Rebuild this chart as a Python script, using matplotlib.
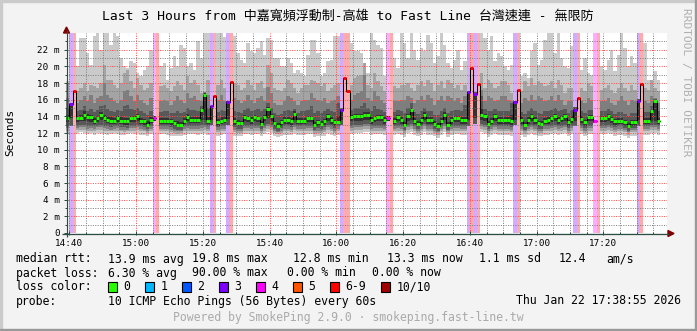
import numpy as np
import matplotlib
matplotlib.use('Agg')
import matplotlib.pyplot as plt
from matplotlib.patches import Polygon, Rectangle

nan = float('nan')

# one sample per minute, first sample at 14:39
median = [
    13.8, 15.5, 17.1, 13.8, 13.8, 14.2, 13.9, 13.9, 13.4, 13.8,
    14.2, 13.8, 13.6, 13.5, 13.5, 13.8, 13.5, 13.4, 13.4, 13.8,
    13.8, 14.0, 13.5, 13.4, 13.0, 13.6, 13.8, nan, 13.5, 13.5,
    13.5, 13.4, 13.2, 13.0, 13.0, 13.5, 13.9, 13.6, 13.6, 13.6,
    14.8, 16.6, 13.5, 15.2, 16.4, 13.3, 13.5, 13.6, 15.7, 18.1,
    13.4, 13.2, 13.2, 13.9, 13.8, 13.6, 13.9, 13.8, 13.1, 13.9,
    14.9, 14.0, 13.2, 12.9, 13.3, 13.6, 13.6, 13.5, 14.3, 13.5,
    13.5, 13.5, 13.8, 13.8, 13.0, 13.3, 13.1, 13.4, 14.0, 13.6,
    13.3, 13.3, 14.8, 18.6, 17.0, 13.9, 14.0, 14.0, 14.0, 14.2,
    14.2, 13.6, 13.8, 13.9, 13.9, 13.6, 13.8, nan, 13.5, 13.9,
    13.6, 13.0, 14.0, 14.8, 13.5, 13.1, 13.6, 14.2, 13.6, 13.6,
    13.1, 12.9, 13.5, 14.2, 13.0, 13.6, 13.8, 13.8, 13.6, 13.6,
    16.9, 19.8, 16.7, 17.9, 14.2, 14.0, 13.1, 13.5, 14.0, 13.6,
    13.6, 13.6, 13.6, 13.4, 15.7, 17.2, 13.6, 13.0, 13.6, 14.0,
    13.6, 13.2, 13.1, 13.5, 13.6, 13.8, 14.0, 13.6, 13.8, 14.0,
    13.3, 13.7, 14.8, 16.2, 13.7, 13.3, 13.9, 13.9, 13.4, nan,
    13.8, 13.8, 14.0, 13.7, 13.4, 13.5, 13.5, 13.3, 12.9, 13.3,
    13.3, 15.8, 17.9, 13.5, 13.5, 14.6, 15.8, 13.5,
]

# sorted pings (ms), slowest first
ping10 = [
    18.2, nan, nan, 20.0, 23.4, 23.4, 21.6, 20.2, 23.6, 24.0,
    22.0, 24.0, 24.0, 22.6, 24.0, 23.6, 21.0, 20.0, 19.8, 20.6,
    20.4, 19.2, 18.8, 19.6, 20.0, 22.0, nan, nan, 20.0, 20.4,
    18.4, 19.8, 21.2, 20.0, 22.6, 22.2, 20.0, 20.4, 19.6, 23.0,
    21.0, 24.0, 24.0, nan, nan, 24.0, 24.0, 23.5, nan, nan,
    23.6, 21.6, 20.8, 20.4, 22.8, 21.8, 21.6, 22.2, 23.0, 21.4,
    23.4, 23.2, 21.0, 21.0, 20.0, 20.0, 21.0, 20.4, 19.2, 19.6,
    19.2, 18.8, 21.4, 23.2, 23.2, 21.6, 18.8, 19.2, 20.6, 20.8,
    23.6, 23.6, nan, nan, nan, 22.8, 21.8, 21.8, 21.6, 20.4,
    19.2, 24.0, 23.2, 22.6, 22.2, 18.8, nan, nan, 21.0, 19.8,
    24.0, 22.8, 21.0, 24.0, 22.0, 20.8, 22.2, 21.8, 23.8, 22.8,
    20.4, 21.2, 24.0, 22.6, 20.4, 19.8, 20.8, 22.0, 19.6, 20.6,
    nan, nan, nan, nan, 24.0, 23.4, 22.0, 23.6, 20.6, 21.6,
    21.2, 20.0, 19.6, 20.2, nan, nan, 18.8, 19.2, 18.6, 21.8,
    22.8, 20.2, 20.8, 23.2, 24.0, 24.0, 21.6, 24.0, 21.0, 20.0,
    19.8, 22.4, nan, nan, 19.6, 21.0, 19.2, 19.0, nan, nan,
    20.0, 19.6, 20.8, 22.0, 19.4, 21.4, 24.0, 22.2, 20.0, 21.2,
    20.4, nan, nan, 22.8, 18.4, 18.4, 19.4, 18.4,
]
ping9 = [
    18.0, nan, nan, 17.0, 17.4, 18.0, 17.0, 17.8, 17.6, 17.4,
    18.0, 20.2, 18.4, 18.4, 17.8, 17.4, 18.0, 19.2, 19.6, 18.2,
    17.4, 18.6, 17.8, 17.2, 17.4, 18.0, nan, nan, 17.6, 17.8,
    17.4, 17.0, 17.6, 18.2, 17.8, 17.2, 18.8, 18.0, 18.4, 17.8,
    16.8, 16.9, 18.4, nan, nan, 17.8, 18.4, 17.4, nan, nan,
    18.0, 17.8, 17.2, 17.4, 18.4, 17.8, 17.2, 18.0, 18.2, 17.4,
    20.2, 19.2, 17.4, 17.2, 17.0, 17.4, 18.4, 18.0, 17.4, 16.8,
    17.4, 17.8, 17.8, 18.4, 18.2, 18.0, 17.6, 18.0, 17.0, 17.4,
    17.8, 18.0, nan, nan, nan, 17.8, 18.6, 18.8, 19.0, 20.4,
    17.8, 17.4, 19.2, 18.2, 17.6, 17.0, nan, nan, 17.6, 17.4,
    17.8, 17.8, 18.0, 17.4, 17.0, 17.8, 18.2, 17.6, 18.4, 18.0,
    17.0, 17.8, 18.2, 17.4, 18.4, 18.0, 17.4, 17.8, 17.2, 17.8,
    nan, nan, nan, nan, 19.2, 17.4, 18.4, 18.0, 17.4, 17.6,
    18.2, 18.2, 17.8, 16.8, nan, nan, 17.0, 18.2, 17.6, 18.6,
    17.8, 18.2, 18.0, 17.6, 17.8, 18.2, 17.4, 18.4, 17.8, 16.8,
    17.4, 17.4, nan, nan, 17.4, 17.0, 18.0, 17.6, nan, nan,
    17.2, 17.4, 17.8, 17.2, 16.8, 17.4, 18.0, 17.4, 17.0, 17.8,
    17.2, nan, nan, 17.4, 17.2, 18.4, 17.4, 17.0,
]
ping8 = [
    16.2, nan, nan, 15.6, 16.0, 16.4, 15.8, 16.6, 15.6, 16.2,
    16.4, 18.0, 16.6, 16.2, 15.8, 15.6, 16.0, 17.0, 17.2, 16.4,
    15.8, 16.6, 16.0, 15.6, 15.4, 16.2, nan, nan, 15.8, 16.0,
    15.8, 15.4, 15.8, 16.4, 16.0, 15.6, 16.8, 16.2, 16.4, 16.0,
    15.8, 16.9, 16.6, nan, nan, 16.0, 16.6, 15.8, nan, nan,
    16.2, 16.0, 15.6, 15.8, 16.6, 16.0, 15.6, 16.2, 16.4, 15.8,
    17.5, 16.8, 15.6, 15.4, 15.4, 15.8, 16.4, 16.2, 15.8, 15.4,
    15.8, 16.0, 16.0, 16.8, 16.2, 16.0, 15.8, 16.2, 15.6, 15.8,
    16.0, 16.4, nan, nan, nan, 16.0, 16.6, 16.8, 17.0, 19.0,
    16.2, 15.8, 17.0, 16.4, 16.0, 15.6, nan, nan, 15.8, 15.8,
    16.0, 16.0, 16.4, 16.2, 15.6, 16.0, 16.4, 16.0, 16.6, 16.2,
    15.4, 16.0, 16.4, 15.8, 16.4, 16.2, 15.8, 16.2, 15.6, 16.4,
    nan, nan, nan, nan, 17.2, 15.8, 16.4, 16.2, 15.8, 16.0,
    16.4, 16.4, 16.0, 15.8, nan, nan, 15.6, 16.2, 15.8, 16.6,
    16.0, 16.4, 16.2, 15.8, 16.0, 16.4, 15.8, 16.6, 16.0, 15.4,
    15.8, 15.8, nan, nan, 15.8, 15.6, 16.2, 16.0, nan, nan,
    15.8, 15.8, 16.2, 15.6, 15.4, 15.8, 16.4, 15.8, 15.4, 16.0,
    15.8, nan, nan, 15.8, 15.6, 16.4, 16.2, 15.6,
]
ping7 = [
    15.0, 15.6, nan, 14.6, 14.8, 15.2, 14.6, 14.9, 14.5, 14.8,
    15.2, 15.4, 14.9, 14.6, 14.5, 14.8, 14.6, 15.2, 15.4, 14.9,
    14.8, 15.0, 14.6, 14.4, 14.2, 14.7, nan, nan, 14.5, 14.6,
    14.6, 14.4, 14.4, 14.6, 14.4, 14.5, 15.0, 14.8, 14.8, 14.6,
    15.2, 16.8, 15.0, 15.3, nan, 14.5, 14.8, 14.6, 15.8, nan,
    14.7, 14.5, 14.4, 14.8, 15.0, 14.7, 14.8, 14.9, 14.6, 14.9,
    15.6, 15.0, 14.4, 14.2, 14.3, 14.6, 14.8, 14.6, 14.9, 14.4,
    14.6, 14.6, 14.8, 15.2, 14.4, 14.6, 14.4, 14.7, 14.9, 14.6,
    14.5, 15.6, 15.0, nan, nan, 14.8, 15.0, 15.0, 15.2, 15.6,
    15.0, 14.6, 15.2, 14.9, 14.8, 14.5, nan, nan, 14.5, 14.8,
    14.6, 14.4, 15.0, 15.6, 14.5, 14.3, 14.7, 15.0, 14.7, 14.6,
    14.2, 14.2, 14.6, 15.0, 14.4, 14.6, 14.8, 14.8, 14.6, 15.4,
    17.1, nan, 16.9, nan, 16.4, 14.9, 14.6, 14.6, 14.9, 14.6,
    14.7, 14.6, 14.6, 15.6, 15.8, nan, 14.5, 14.3, 14.6, 15.0,
    14.6, 14.4, 14.3, 14.6, 14.7, 14.8, 15.0, 14.7, 14.8, 14.9,
    14.4, 14.8, 15.1, nan, 14.6, 14.4, 14.8, 14.8, nan, nan,
    14.7, 14.7, 14.9, 14.6, 14.3, 14.5, 14.5, 14.3, 14.0, 14.4,
    14.4, 16.1, nan, 14.5, 14.5, 15.2, 16.1, 14.6,
]
ping6 = [
    14.2, 15.5, nan, 14.1, 14.2, 14.6, 14.3, 14.2, 13.8, 14.1,
    14.5, 14.2, 14.0, 13.9, 13.8, 14.1, 13.9, 13.8, 13.8, 14.1,
    14.1, 14.3, 13.8, 13.7, 13.4, 13.9, 14.0, nan, 13.8, 13.8,
    13.8, 13.7, 13.5, 13.4, 13.3, 13.8, 14.3, 13.9, 13.9, 13.9,
    15.0, 16.8, 13.9, 15.2, nan, 13.7, 13.9, 13.9, 15.7, nan,
    13.8, 13.6, 13.5, 14.2, 14.1, 13.9, 14.2, 14.1, 13.5, 14.2,
    15.1, 14.3, 13.5, 13.2, 13.6, 13.9, 13.9, 13.8, 14.6, 13.8,
    13.8, 13.8, 14.1, 14.1, 13.3, 13.6, 13.4, 13.7, 14.3, 13.9,
    13.6, 14.0, 14.9, nan, nan, 14.2, 14.3, 14.3, 14.3, 14.5,
    14.5, 13.9, 14.1, 14.2, 14.2, 13.9, 14.0, nan, 13.8, 14.2,
    13.9, 13.3, 14.3, 15.0, 13.8, 13.4, 13.9, 14.5, 13.9, 13.9,
    13.4, 13.2, 13.8, 14.5, 13.3, 13.9, 14.1, 14.1, 13.9, 13.9,
    17.0, nan, 16.8, nan, 15.0, 14.3, 13.4, 13.8, 14.3, 13.9,
    13.9, 13.9, 13.9, 14.2, 15.7, nan, 13.9, 13.3, 13.9, 14.3,
    13.9, 13.5, 13.4, 13.8, 13.9, 14.1, 14.3, 13.9, 14.1, 14.3,
    13.6, 14.0, 15.0, nan, 14.0, 13.6, 14.2, 14.2, 13.6, nan,
    14.1, 14.1, 14.3, 14.0, 13.7, 13.8, 13.8, 13.6, 13.2, 13.6,
    13.6, 16.0, nan, 13.8, 13.8, 14.8, 16.0, 13.8,
]
ping5 = [
    13.3, 13.8, nan, 13.3, 13.4, 13.5, 13.4, 13.3, 13.1, 13.3,
    13.6, 13.4, 13.2, 13.1, 13.1, 13.3, 13.1, 13.0, 13.0, 13.3,
    13.3, 13.5, 13.1, 13.0, 12.7, 13.2, 13.4, nan, 13.1, 13.1,
    13.1, 13.0, 12.8, 12.7, 12.7, 13.1, 13.4, 13.2, 13.2, 13.2,
    13.6, 13.6, 13.1, 13.6, nan, 12.9, 13.1, 13.2, 13.7, nan,
    13.0, 12.8, 12.8, 13.4, 13.3, 13.1, 13.4, 13.3, 12.8, 13.4,
    13.8, 13.5, 12.8, 12.6, 12.9, 13.1, 13.1, 13.0, 13.6, 13.1,
    13.1, 13.1, 13.3, 13.3, 12.7, 12.9, 12.8, 13.0, 13.4, 13.1,
    12.9, 13.2, 13.6, nan, nan, 13.4, 13.5, 13.5, 13.5, 13.6,
    13.6, 13.1, 13.3, 13.4, 13.4, 13.1, 13.5, nan, 13.1, 13.4,
    13.1, 12.7, 13.5, 13.6, 13.1, 12.8, 13.1, 13.6, 13.1, 13.1,
    12.8, 12.6, 13.1, 13.6, 12.7, 13.1, 13.3, 13.3, 13.1, 13.1,
    13.6, nan, 13.8, nan, 13.6, 13.5, 12.8, 13.1, 13.5, 13.1,
    13.1, 13.1, 13.1, 13.0, 13.6, nan, 13.1, 12.7, 13.1, 13.4,
    13.1, 12.8, 12.8, 13.1, 13.1, 13.3, 13.4, 13.1, 13.3, 13.4,
    12.9, 13.2, 13.4, nan, 13.2, 12.9, 13.4, 13.4, 13.2, nan,
    13.3, 13.3, 13.4, 13.2, 13.0, 13.1, 13.1, 12.9, 12.6, 12.9,
    12.9, 13.6, nan, 13.1, 13.1, 13.5, 13.5, 13.1,
]
ping4 = [
    12.9, 12.8, nan, 12.9, 13.0, 13.0, 12.9, 12.8, 12.8, 12.9,
    13.0, 12.9, 12.8, 12.7, 12.8, 12.9, 12.7, 12.7, 12.6, 12.9,
    12.9, 13.0, 12.8, 12.7, 12.5, 12.8, nan, nan, 12.8, 12.8,
    12.8, 12.7, 12.5, 12.4, 12.4, 12.8, 12.9, 12.8, 12.8, 12.8,
    13.0, 13.0, 12.8, 13.0, nan, 12.7, 12.8, 12.8, 13.0, nan,
    12.7, 12.5, 12.5, 12.9, 12.9, 12.8, 12.9, 12.9, 12.5, 12.9,
    13.1, 13.0, 12.5, 12.3, 12.6, 12.8, 12.8, 12.7, 13.0, 12.8,
    12.8, 12.8, 12.9, 12.9, 12.4, 12.6, 12.5, 12.7, 13.0, 12.8,
    12.6, 12.8, 13.0, nan, nan, 12.9, 13.0, 13.0, 13.0, 13.1,
    13.1, 12.8, 12.9, 12.9, 12.9, 12.8, nan, nan, 12.8, 12.9,
    12.8, 12.4, 13.0, 13.1, 12.8, 12.5, 12.8, 13.1, 12.8, 12.8,
    12.5, 12.3, 12.8, 13.1, 12.4, 12.8, 12.9, 12.9, 12.8, 12.8,
    12.9, nan, 13.1, nan, 13.1, 13.0, 12.5, 12.8, 13.0, 12.8,
    12.8, 12.8, 12.8, 12.7, 13.0, nan, 12.8, 12.4, 12.8, 13.0,
    12.8, 12.5, 12.5, 12.8, 12.8, 12.9, 13.0, 12.8, 12.9, 13.0,
    12.6, 12.9, 12.9, nan, 12.9, 12.6, 12.9, 12.9, nan, nan,
    12.9, 12.9, 13.0, 12.9, 12.7, 12.8, 12.8, 12.6, 12.3, 12.6,
    12.6, 12.9, nan, 12.8, 12.8, 13.0, 13.0, 12.8,
]
ping3 = [
    12.6, nan, nan, 12.6, 12.7, 12.7, 12.5, 12.6, 12.5, 12.7,
    12.7, 12.6, 12.5, 12.4, 12.5, 12.6, 12.4, 12.4, 12.4, 12.6,
    12.6, 12.7, 12.5, 12.4, 12.3, 12.5, nan, nan, 12.5, 12.5,
    12.5, 12.4, 12.3, 12.2, 12.2, 12.5, 12.6, 12.5, 12.5, 12.5,
    12.6, 12.7, 12.5, nan, nan, 12.4, 12.5, 12.5, nan, nan,
    12.4, 12.3, 12.3, 12.6, 12.6, 12.5, 12.6, 12.6, 12.3, 12.6,
    12.8, 12.7, 12.3, 12.1, 12.3, 12.5, 12.5, 12.4, 12.7, 12.5,
    12.5, 12.5, 12.6, 12.6, 12.2, 12.3, 12.3, 12.4, 12.7, 12.5,
    12.3, 12.5, nan, nan, nan, 12.6, 12.7, 12.7, 12.7, 12.8,
    12.8, 12.5, 12.6, 12.6, 12.6, 12.5, nan, nan, 12.5, 12.6,
    12.5, 12.2, 12.7, 12.8, 12.5, 12.3, 12.5, 12.8, 12.5, 12.5,
    12.3, 12.1, 12.5, 12.8, 12.2, 12.5, 12.6, 12.6, 12.5, 12.5,
    nan, nan, nan, nan, 12.8, 12.7, 12.2, 12.5, 12.7, 12.5,
    12.5, 12.5, 12.5, 12.4, nan, nan, 12.5, 12.2, 12.5, 12.7,
    12.5, 12.3, 12.3, 12.5, 12.5, 12.6, 12.7, 12.5, 12.6, 12.7,
    12.3, 12.6, nan, nan, 12.6, 12.3, 12.6, 12.6, nan, nan,
    12.6, 12.6, 12.7, 12.6, 12.4, 12.5, 12.5, 12.4, 12.1, 12.4,
    12.4, nan, nan, 12.5, 12.5, 12.7, 12.7, 12.5,
]
ping2 = [
    12.3, nan, nan, 12.4, 12.4, 12.4, 12.3, 12.3, 12.2, 12.4,
    12.4, 12.3, 12.2, 12.2, 12.3, 12.3, 12.2, 12.1, 12.2, 12.3,
    12.3, 12.4, 12.2, 12.2, 12.0, 12.3, nan, nan, 12.2, 12.3,
    12.2, 12.1, 12.0, 11.9, 12.0, 12.2, 12.3, 12.2, 12.3, 12.2,
    12.3, 12.4, 12.2, nan, nan, 12.1, 12.2, 12.2, nan, nan,
    12.1, 12.0, 12.0, 12.3, 12.3, 12.2, 12.3, 12.3, 12.0, 12.3,
    12.5, 12.4, 12.0, 11.9, 12.0, 12.2, 12.2, 12.1, 12.4, 12.2,
    12.2, 12.2, 12.3, 12.3, 11.9, 12.0, 12.0, 12.1, 12.4, 12.2,
    12.0, 12.2, nan, nan, nan, 12.3, 12.4, 12.4, 12.4, 12.5,
    12.5, 12.2, 12.3, 12.3, 12.3, 12.2, nan, nan, 12.2, 12.3,
    12.2, 11.9, 12.4, 12.5, 12.2, 12.0, 12.2, 12.5, 12.2, 12.2,
    12.0, 11.8, 12.2, 12.5, 11.9, 12.2, 12.3, 12.3, 12.2, 12.2,
    nan, nan, nan, nan, 12.5, 12.4, 11.9, 12.2, 12.4, 12.2,
    12.2, 12.2, 12.2, 12.1, nan, nan, 12.2, 11.9, 12.2, 12.4,
    12.2, 12.0, 12.0, 12.2, 12.2, 12.3, 12.4, 12.2, 12.3, 12.4,
    12.0, 12.3, nan, nan, 12.3, 12.0, 12.3, 12.3, nan, nan,
    12.3, 12.3, 12.4, 12.3, 12.1, 12.2, 12.2, 12.1, 11.8, 12.1,
    12.1, nan, nan, 12.2, 12.2, 12.4, 12.4, 12.2,
]
ping1 = [
    11.9, nan, nan, 12.0, 12.1, 12.0, 11.9, 12.0, 11.8, 12.0,
    12.0, 11.9, 11.8, 11.9, 12.0, 11.9, 11.8, 11.8, 11.9, 12.0,
    11.9, 12.0, 11.8, 11.8, 11.7, 11.9, nan, nan, 11.9, 11.9,
    11.8, 11.7, 11.6, 11.6, 11.6, 11.8, 11.9, 11.9, 11.9, 11.8,
    11.9, 12.0, 11.8, nan, nan, 11.7, 11.8, 11.9, nan, nan,
    11.7, 11.6, 11.7, 11.9, 11.9, 11.8, 11.9, 11.9, 11.6, 11.9,
    12.1, 12.0, 11.6, 11.5, 11.7, 11.8, 11.8, 11.8, 12.0, 11.8,
    11.8, 11.8, 11.9, 11.9, 11.5, 11.7, 11.6, 11.7, 12.0, 11.8,
    11.7, 11.8, nan, nan, nan, 11.9, 12.0, 12.0, 12.0, 12.1,
    12.1, 11.8, 11.9, 11.9, 11.9, 11.8, nan, nan, 11.8, 11.9,
    11.8, 11.5, 12.0, 12.1, 11.8, 11.6, 11.8, 12.1, 11.8, 11.8,
    11.6, 11.4, 11.8, 12.1, 11.5, 11.8, 11.9, 11.9, 11.8, 11.8,
    nan, nan, nan, nan, 12.1, 12.0, 11.5, 11.8, 12.0, 11.8,
    11.8, 11.8, 11.8, 11.7, nan, nan, 11.8, 11.5, 11.8, 12.0,
    11.8, 11.6, 11.6, 11.8, 11.8, 11.9, 12.0, 11.8, 11.9, 12.0,
    11.6, 11.9, nan, nan, 11.9, 11.6, 11.9, 11.9, nan, nan,
    11.9, 11.9, 12.0, 11.9, 11.7, 11.8, 11.8, 11.7, 11.4, 11.7,
    11.7, nan, nan, 11.8, 11.8, 12.0, 12.0, 11.8,
]

# samples with lost pings (index, lost out of 10)
loss_idx = [1, 2, 26, 27, 43, 44, 48, 49, 82, 83, 84, 96, 97,
            120, 121, 122, 123, 134, 135, 152, 153, 158, 159, 171, 172]
loss_cnt = [3, 6, 4, 9, 3, 6, 3, 6, 3, 6, 6, 4, 9,
            3, 6, 3, 6, 3, 6, 3, 6, 4, 9, 3, 6]

time_ticks = [1, 21, 41, 61, 81, 101, 121, 141, 161]
time_labels = ['14:40', '15:00', '15:20', '15:40', '16:00', '16:20', '16:40', '17:00', '17:20']
ms_ticks = [0, 2, 4, 6, 8, 10, 12, 14, 16, 18, 20, 22]

title = 'Last 3 Hours from 中嘉寬頻浮動制-高雄 to Fast Line 台灣速連 - 無限防'
rtt_stats = ['13.9 ms avg', '19.8 ms max', '12.8 ms min', '13.3 ms now', '1.1 ms sd', '12.4', 'am/s']
loss_stats = ['6.30 % avg', '90.00 % max', '0.00 % min', '0.00 % now']
legend_names = ['0', '1', '2', '3', '4', '5', '6-9', '10/10']
legend_colors = ['#26ff00', '#00b8ff', '#0059ff', '#7e00ff', '#ff00ff', '#ff5500', '#ff0000', '#a10000']
probe_text = '10 ICMP Echo Pings (56 Bytes) every 60s'
stamp = 'Thu Jan 22 17:38:55 2026'


def loss_color(n):
    if n <= 5:
        return legend_colors[n]
    if n < 10:
        return legend_colors[6]
    return legend_colors[7]


W, H = 697, 331
MONO = 'DejaVu Sans Mono'
fig = plt.figure(figsize=(W / 100, H / 100), dpi=100, facecolor='#f3f3f3')

px_per_min = 3.3375
ax = fig.add_axes([66 / W, (H - 233) / H, 601 / W, 200 / H])
ax.set_facecolor('white')
ax.set_xlim(0, 601 / px_per_min)
ax.set_ylim(0, 24)
for s in ax.spines.values():
    s.set_visible(False)

n = len(median)
edges = np.arange(n + 1)
loss = np.zeros(n, dtype=int)
loss[loss_idx] = loss_cnt

# loss background stripes
ax.bar(loss_idx, [24] * len(loss_idx), width=1, align='edge',
       color=[loss_color(c) for c in loss_cnt], alpha=0.33, lw=0, zorder=1)

# smoke
xs = np.repeat(edges, 2)[1:-1]
smoke = [(ping1, ping10, '#cacaca'), (ping2, ping9, '#a4a4a4'),
         (ping3, ping8, '#7e7e7e'), (ping4, ping7, '#585858'),
         (ping5, ping6, '#323232')]
for lo, hi, c in smoke:
    ax.fill_between(xs, np.repeat(np.asarray(lo, float), 2),
                    np.repeat(np.asarray(hi, float), 2), color=c, lw=0, zorder=2)

# median
med = np.asarray(median, float)
ax.plot(edges, np.append(med, med[-1]), drawstyle='steps-post', color='black',
        lw=0.75, zorder=4)
ax.hlines(med, edges[:-1], edges[1:], colors=[loss_color(c) for c in loss],
          lw=2.1, zorder=5, capstyle='butt')

# grid
ax.set_axisbelow(False)
ax.set_xticks(time_ticks)
ax.set_xticklabels(time_labels)
ax.set_xticks(np.arange(1, 180, 5), minor=True)
ax.set_yticks(ms_ticks)
ax.set_yticklabels(['0'] + ['%d m' % v for v in ms_ticks[1:]])
ax.set_yticks(np.arange(1, 24, 2), minor=True)
ax.grid(which='major', color=(1.0, 0.3, 0.3, 0.4), lw=0.72, linestyle=(0, (1, 1.4)))
ax.grid(which='minor', color=(0.5, 0.5, 0.5, 0.3), lw=0.72, linestyle=(0, (1, 1.4)))
ax.tick_params(which='both', direction='inout', color='#2c4d43', width=0.72)
ax.tick_params(which='major', length=2.5, labelsize=6.7, pad=3.2)
ax.tick_params(which='minor', length=1.5)
for lab in ax.get_xticklabels() + ax.get_yticklabels():
    lab.set_family(MONO)

# overlay in pixel coordinates
ov = fig.add_axes([0, 0, 1, 1])
ov.set_xlim(0, W)
ov.set_ylim(H, 0)
ov.axis('off')
ov.patch.set_visible(False)

ov.add_patch(Rectangle((0, 0), W, 1.5, color='#cbcbcb'))
ov.add_patch(Rectangle((0, 0), 1.5, H, color='#cbcbcb'))
ov.add_patch(Rectangle((0, H - 2), W, 2, color='#999999'))
ov.add_patch(Rectangle((W - 2, 0), 2, H, color='#999999'))

ov.plot([62, 669], [233.5, 233.5], color='#2c4d43', lw=0.9, solid_capstyle='butt')
ov.plot([66.5, 66.5], [237, 30], color='#2c4d43', lw=0.9, solid_capstyle='butt')
ov.add_patch(Polygon([(668, 230.5), (668, 236.5), (674, 233.5)], color='#7f0000'))
ov.add_patch(Polygon([(63.5, 33), (69.5, 33), (66.5, 27)], color='#7f0000'))

ov.text(347.5, 16, title, ha='center', va='center', fontsize=9.4,
        family=[MONO, 'Noto Sans CJK TC'])
ov.text(10, 132, 'Seconds', rotation=90, ha='center', va='center',
        fontsize=8.0, family=MONO)
ov.text(686, 82, 'RRDTOOL / TOBI OETIKER', rotation=270, ha='center', va='center',
        fontsize=8.0, family=MONO, color='#b0b0b0')

fs = 8.3
ov.text(16, 259, 'median rtt:', va='center', fontsize=fs, family=MONO)
for txt, x in zip(rtt_stats, [107.5, 192.4, 293, 386.7, 479, 558.7, 606.7]):
    ov.text(x, 259, txt, va='center', fontsize=fs, family=MONO)
ov.text(16, 273, 'packet loss:', va='center', fontsize=fs, family=MONO)
for txt, x in zip(loss_stats, [107.5, 192.4, 286.7, 372.4]):
    ov.text(x, 273, txt, va='center', fontsize=fs, family=MONO)
ov.text(16, 287, 'loss color:', va='center', fontsize=fs, family=MONO)
for name, col, bx in zip(legend_names, legend_colors,
                         [108, 145.3, 182.2, 219, 256.4, 293.3, 330, 381.3]):
    ov.add_patch(Rectangle((bx, 282), 9, 10, facecolor=col, edgecolor='black', lw=0.8))
    ov.text(bx + 15, 287, name, va='center', fontsize=fs, family=MONO)
ov.text(16, 301, 'probe:', va='center', fontsize=fs, family=MONO)
ov.text(107.5, 301, probe_text, va='center', fontsize=fs, family=MONO)
ov.text(681, 301, stamp, va='center', ha='right', fontsize=fs, family=MONO)
ov.text(348, 318, 'Powered by SmokePing 2.9.0 · smokeping.fast-line.tw', ha='center',
        va='center', fontsize=fs, family=MONO, color='#aaaaaa')

fig.savefig('out.png', dpi=100, facecolor=fig.get_facecolor())
